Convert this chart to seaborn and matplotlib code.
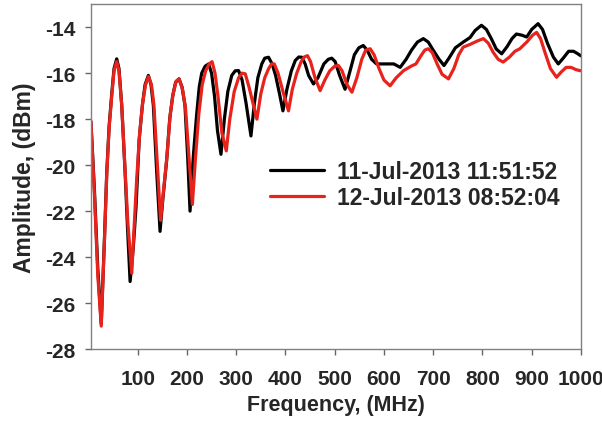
import numpy as np
import pandas as pd
import matplotlib
matplotlib.use("Agg")
import matplotlib.pyplot as plt
import seaborn as sns

# ---- data ----
label_black = "11-Jul-2013 11:51:52"
label_red = "12-Jul-2013 08:52:04"

freq_black = [5, 12, 19, 26, 32.5, 37.2, 42, 47.3, 52, 57.4, 62, 67.6, 74.4, 79.5, 84.6,
              91, 96.7, 103, 109.5, 115, 121.7, 127, 131.8, 138.6, 145.4,
              151, 158.8, 165, 171, 177, 183.9, 190, 196, 201.4, 206.3,
              213, 219.7, 225, 230, 237, 244, 250, 256, 262, 269.1,
              276, 283, 291, 298, 304.9, 312, 320, 330,
              337, 344, 352, 358, 365.7, 373, 380, 388, 394.9,
              403, 412, 420, 427, 433.4, 440, 447, 457,
              466, 478, 487, 494, 501, 510, 521, 530, 540, 549, 558, 566, 575, 585, 600,
              620, 633, 645, 656, 668, 680, 690, 700, 712, 722, 732, 745, 761, 775, 785,
              798, 808, 818, 828, 839, 850, 860, 869, 880, 890, 900, 913, 922, 932, 944,
              954, 964, 975, 985, 993, 1000]
amp_black = [-18.1, -21.0, -24.5, -26.9, -23.2, -20.3, -18.3, -16.9, -15.8, -15.38, -15.8,
             -17.4, -20.3, -22.8, -25.06,
             -23.6, -21.8, -18.9, -17.4, -16.5, -16.1, -16.5, -17.4, -20.3, -22.88,
             -21.5, -19.8, -18.0, -17.0, -16.4, -16.25, -16.6, -17.4, -19.6, -22.0,
             -19.6, -17.8, -16.6, -16.0, -15.7, -15.6, -16.0, -17.0, -18.5, -19.53,
             -18.0, -16.8, -16.1, -15.9, -15.89, -16.3, -17.3, -18.73,
             -17.3, -16.2, -15.6, -15.35, -15.31, -15.6, -16.1, -16.9, -17.64,
             -16.7, -15.9, -15.45, -15.3, -15.31, -15.6, -16.1, -16.47,
             -16.2, -15.6, -15.4, -15.35, -15.5, -16.1, -16.7, -16.0, -15.2, -14.9, -14.8,
             -15.0, -15.4, -15.6, -15.6,
             -15.6, -15.75, -15.4, -15.0, -14.65, -14.5, -14.65, -15.0, -15.4, -15.67,
             -15.35, -14.9, -14.65, -14.45, -14.15,
             -13.92, -14.1, -14.5, -14.95, -15.16, -14.85, -14.5, -14.3, -14.35, -14.43,
             -14.1, -13.85, -14.1, -14.7, -15.3,
             -15.6, -15.35, -15.05, -15.05, -15.15, -15.25]

freq_red = [5, 12, 19, 26, 32.5, 37.2, 42, 47.3, 52, 57.4, 62, 67.6, 74.4, 80, 87.9,
            93, 98, 104, 110, 116, 122, 128, 133, 140, 146.5,
            152, 159.5, 166, 172, 178, 184, 191, 197, 204, 211,
            217, 224, 231, 238, 245, 251, 257, 263, 271, 279.9,
            287, 296, 305, 312, 318.4, 326, 334, 342.1,
            350, 358, 366, 372, 377.3, 385, 395, 406.2,
            414, 423, 432, 438, 444.8, 451, 460, 470.5,
            480, 490, 500, 507.6, 515, 525, 535, 545, 555, 563, 572, 580, 590, 600,
            612.5, 625, 640, 655, 665, 675, 683, 690, 698, 708, 718, 731, 742, 752,
            761, 775, 790, 802, 812, 822, 832, 842, 855, 866, 876, 890, 902, 910,
            918, 927, 938, 950.5, 960, 970, 980, 990, 1000]
amp_red = [-18.1, -21.2, -24.8, -27.0, -23.3, -20.4, -18.4, -17.0, -15.9, -15.5, -15.9,
           -17.4, -20.2, -22.5, -24.7,
           -22.6, -20.6, -18.6, -17.3, -16.5, -16.15, -16.5, -17.4, -20.0, -22.4,
           -21.2, -19.6, -17.8, -16.9, -16.35, -16.25, -16.7, -17.5, -19.6, -21.71,
           -19.8, -17.8, -16.5, -15.9, -15.6, -15.5, -16.0, -17.0, -18.6, -19.38,
           -18.0, -16.8, -16.2, -16.0, -16.03, -16.6, -17.3, -18.0,
           -16.9, -16.2, -15.8, -15.6, -15.6, -16.0, -16.8, -17.64,
           -16.7, -16.0, -15.5, -15.3, -15.24, -15.5, -16.2, -16.76,
           -16.3, -15.9, -15.7, -15.67, -15.9, -16.5, -16.83, -16.2, -15.4, -15.0, -14.94,
           -15.2, -15.8, -16.3,
           -16.55, -16.2, -15.89, -15.7, -15.6, -15.25, -15.0, -14.94, -15.1, -15.6,
           -16.05, -16.25, -15.8, -15.2,
           -14.87, -14.75, -14.6, -14.5, -14.7, -15.1, -15.4, -15.52, -15.3, -15.05,
           -14.94, -14.65, -14.35, -14.23,
           -14.5, -15.1, -15.8, -16.18, -15.95, -15.75, -15.75, -15.85, -15.9]

x_ticks = [100, 200, 300, 400, 500, 600, 700, 800, 900, 1000]
y_ticks = [-28, -26, -24, -22, -20, -18, -16, -14]

df = pd.concat([
    pd.DataFrame({"freq": freq_black, "amp": amp_black, "series": label_black}),
    pd.DataFrame({"freq": freq_red, "amp": amp_red, "series": label_red}),
], ignore_index=True)

sns.set_theme(style="ticks")
plt.rcParams["font.family"] = ["Liberation Sans", "DejaVu Sans"]
plt.rcParams["font.weight"] = "bold"

fig = plt.figure(figsize=(6.02, 4.27), dpi=100)
ax = fig.add_axes([0.151, 0.180, 0.814, 0.808])

sns.lineplot(data=df, x="freq", y="amp", hue="series",
             palette={label_black: "#000000", label_red: "#e8231c"},
             linewidth=2.3, ax=ax, legend=True)

ax.set_xlim(5, 1000)
ax.set_ylim(-28, -13)
ax.set_xticks(x_ticks)
ax.set_yticks(y_ticks)
ax.set_xticklabels([str(t) for t in x_ticks], fontsize=15, fontweight="bold")
ax.set_yticklabels([str(t) for t in y_ticks], fontsize=15, fontweight="bold")
ax.tick_params(axis="both", direction="out", length=4.3, width=1, color="#666666")
ax.tick_params(axis="y", pad=7)
ax.tick_params(axis="x", pad=10)
for s in ax.spines.values():
    s.set_color("#808080")
    s.set_linewidth(1.0)

ax.set_xlabel("Frequency, (MHz)", fontsize=15.5, fontweight="bold", labelpad=4)
ax.set_ylabel("Amplitude, (dBm)", fontsize=16.5, fontweight="bold", labelpad=6)

leg = ax.legend(loc="center left", bbox_to_anchor=(0.3465, 0.478), frameon=False,
                borderaxespad=0, handlelength=2.36, handletextpad=0.57,
                labelspacing=0.12, prop={"weight": "bold", "size": 16.5})
for line in leg.get_lines():
    line.set_linewidth(2.3)

fig.savefig("out.png", dpi=100)
